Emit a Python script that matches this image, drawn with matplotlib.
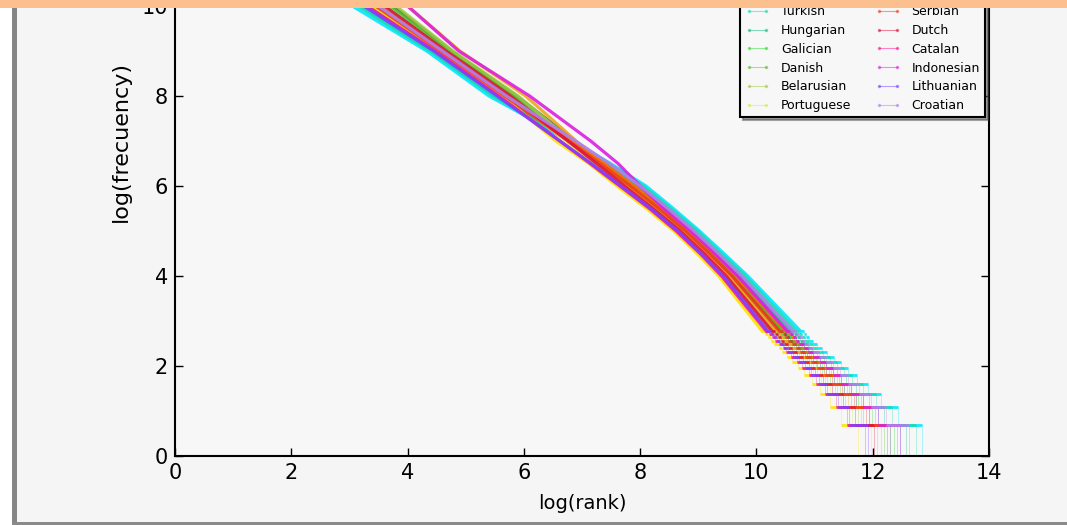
import numpy as np
import matplotlib.pyplot as plt
from matplotlib.lines import Line2D
from matplotlib.patches import Rectangle

# languages in legend order (first three of each column sit above the visible area)
languages = ['English', 'Spanish', 'German', 'Turkish', 'Hungarian', 'Galician',
             'Danish', 'Belarusian', 'Portuguese', 'Italian', 'French', 'Russian',
             'Serbian', 'Dutch', 'Catalan', 'Indonesian', 'Lithuanian', 'Croatian']
colors = ['#1c3347', '#2b8ff0', '#00e8ff', '#18dcb0', '#10c080', '#30dc30',
          '#5cc030', '#9ccc40', '#d4ec3c', '#ffe400', '#eca820', '#ff6a00',
          '#f03c1c', '#e0143c', '#ff1493', '#dc20e0', '#8040ff', '#b080f0']

# log(frecuency) levels where the upper, dense part of every curve was read
levels = [11.5, 10, 9, 8, 7, 6.5, 6, 5.5, 5, 4.5, 4]
# log(rank) of each curve at those levels
curve_x = [
    [2.15, 3.75, 4.75, 5.87, 6.88, 7.38, 7.85, 8.34, 8.80, 9.21, 9.60],
    [1.60, 3.20, 4.42, 5.50, 6.76, 7.36, 7.93, 8.41, 8.87, 9.28, 9.68],
    [1.45, 3.05, 4.33, 5.40, 6.82, 7.49, 8.10, 8.57, 9.02, 9.44, 9.85],
    [1.55, 3.15, 4.39, 5.47, 6.82, 7.46, 8.05, 8.52, 8.98, 9.39, 9.80],
    [1.75, 3.35, 4.51, 5.60, 6.83, 7.42, 7.98, 8.46, 8.91, 9.33, 9.73],
    [2.00, 3.60, 4.66, 5.77, 6.85, 7.38, 7.88, 8.36, 8.82, 9.23, 9.63],
    [2.10, 3.70, 4.72, 5.83, 6.83, 7.33, 7.80, 8.29, 8.76, 9.16, 9.55],
    [2.20, 3.80, 4.78, 5.90, 6.83, 7.30, 7.75, 8.25, 8.71, 9.12, 9.50],
    [1.95, 3.55, 4.63, 5.73, 6.73, 7.22, 7.70, 8.20, 8.67, 9.07, 9.45],
    [1.80, 3.40, 4.54, 5.63, 6.55, 7.12, 7.60, 8.11, 8.58, 8.98, 9.35],
    [2.40, 4.00, 4.90, 6.03, 6.90, 7.35, 7.78, 8.27, 8.73, 9.14, 9.53],
    [1.90, 3.50, 4.60, 5.70, 6.83, 7.38, 7.90, 8.39, 8.84, 9.26, 9.65],
    [1.85, 3.45, 4.57, 5.67, 6.77, 7.31, 7.83, 8.32, 8.78, 9.19, 9.58],
    [2.00, 3.60, 4.66, 5.77, 6.76, 7.25, 7.73, 8.22, 8.69, 9.10, 9.48],
    [1.70, 3.30, 4.48, 5.57, 6.62, 7.14, 7.65, 8.16, 8.62, 9.03, 9.40],
    [2.40, 4.00, 4.88, 6.10, 7.15, 7.62, 8.00, 8.41, 8.87, 9.28, 9.68],
    [1.65, 3.25, 4.45, 5.54, 6.62, 7.16, 7.67, 8.18, 8.65, 9.05, 9.43],
    [1.90, 3.50, 4.60, 5.70, 6.89, 7.47, 8.00, 8.48, 8.93, 9.35, 9.75],
]

# low-frequency tail: word counts 16..1 and the log(rank) where each count
# starts; the last value is log(vocabulary size)
tail_freq = [16, 15, 14, 13, 12, 11, 10, 9, 8, 7, 6, 5, 4, 3, 2, 1]
tail_x = [
    [10.43, 10.48, 10.53, 10.58, 10.64, 10.71, 10.78, 10.87, 10.98, 11.09, 11.20, 11.34, 11.51, 11.71, 11.94, 12.30, 12.95],
    [10.53, 10.58, 10.63, 10.68, 10.74, 10.81, 10.88, 10.98, 11.09, 11.20, 11.31, 11.46, 11.63, 11.84, 12.09, 12.47, 13.12],
    [10.76, 10.81, 10.86, 10.91, 10.97, 11.04, 11.12, 11.22, 11.34, 11.46, 11.58, 11.73, 11.92, 12.15, 12.43, 12.85, 13.50],
    [10.69, 10.74, 10.79, 10.84, 10.90, 10.97, 11.05, 11.15, 11.27, 11.39, 11.50, 11.65, 11.84, 12.06, 12.33, 12.74, 13.39],
    [10.60, 10.65, 10.70, 10.75, 10.81, 10.88, 10.95, 11.05, 11.16, 11.28, 11.39, 11.54, 11.72, 11.93, 12.19, 12.58, 13.23],
    [10.46, 10.51, 10.56, 10.61, 10.67, 10.74, 10.81, 10.91, 11.02, 11.13, 11.24, 11.38, 11.55, 11.75, 11.99, 12.36, 13.01],
    [10.36, 10.41, 10.46, 10.51, 10.57, 10.64, 10.71, 10.80, 10.91, 11.02, 11.12, 11.26, 11.43, 11.62, 11.84, 12.19, 12.84],
    [10.30, 10.35, 10.40, 10.45, 10.51, 10.58, 10.64, 10.73, 10.84, 10.94, 11.05, 11.18, 11.35, 11.53, 11.74, 12.08, 12.73],
    [10.23, 10.28, 10.33, 10.38, 10.44, 10.51, 10.58, 10.66, 10.76, 10.87, 10.97, 11.11, 11.26, 11.45, 11.65, 11.97, 12.62],
    [10.10, 10.15, 10.20, 10.25, 10.31, 10.38, 10.44, 10.52, 10.62, 10.72, 10.82, 10.95, 11.10, 11.27, 11.45, 11.75, 12.40],
    [10.33, 10.38, 10.43, 10.48, 10.54, 10.61, 10.68, 10.77, 10.87, 10.98, 11.09, 11.22, 11.39, 11.58, 11.79, 12.14, 12.79],
    [10.50, 10.55, 10.60, 10.65, 10.71, 10.78, 10.85, 10.94, 11.05, 11.16, 11.28, 11.42, 11.59, 11.80, 12.04, 12.41, 13.06],
    [10.40, 10.45, 10.50, 10.55, 10.61, 10.68, 10.75, 10.84, 10.94, 11.05, 11.16, 11.30, 11.47, 11.67, 11.89, 12.25, 12.90],
    [10.27, 10.32, 10.37, 10.42, 10.48, 10.55, 10.61, 10.70, 10.80, 10.91, 11.01, 11.15, 11.30, 11.49, 11.70, 12.03, 12.68],
    [10.17, 10.22, 10.27, 10.32, 10.38, 10.45, 10.51, 10.59, 10.69, 10.79, 10.90, 11.03, 11.18, 11.36, 11.55, 11.86, 12.51],
    [10.53, 10.58, 10.63, 10.68, 10.74, 10.81, 10.88, 10.98, 11.09, 11.20, 11.31, 11.46, 11.63, 11.84, 12.09, 12.47, 13.12],
    [10.20, 10.25, 10.30, 10.35, 10.41, 10.48, 10.54, 10.63, 10.73, 10.83, 10.93, 11.07, 11.22, 11.40, 11.60, 11.92, 12.57],
    [10.63, 10.68, 10.73, 10.78, 10.84, 10.91, 10.98, 11.08, 11.20, 11.31, 11.43, 11.57, 11.76, 11.97, 12.23, 12.63, 13.28],
]

W, H = 1067, 525
bg = '#f5f5f5'
fig = plt.figure(figsize=(W / 100, H / 100), dpi=100, facecolor=bg)
# axes run up to 14, the top part is cut off by the page
ax = fig.add_axes([175 / W, 69 / H, 814 / W, 630 / H], facecolor='#f7f7f7')

ty = np.log(tail_freq)
for cx, tx, c in zip(curve_x, tail_x, colors):
    ax.plot(cx + [tx[0]], levels + [ty[0]], color=c, lw=2.3, alpha=0.9,
            solid_joinstyle='round')
    ax.hlines(ty[:-1], tx[:-2], tx[1:-1], color=c, lw=2.0, alpha=0.9)
    ax.vlines(tx[1:-1], ty[1:], ty[:-1], color=c, lw=0.6, alpha=0.35)

ax.set_xlim(0, 14)
ax.set_ylim(0, 14)
ax.set_xticks(np.arange(0, 15, 2))
ax.set_yticks(np.arange(0, 11, 2))
ax.tick_params(direction='in', top=True, right=True, length=6, width=1,
               labelsize=15, pad=5)
for s in ax.spines.values():
    s.set_linewidth(1.5)
ax.set_xlabel('log(rank)', fontsize=14, labelpad=8)
ax.set_ylabel('log(frecuency)', fontsize=16)
ax.yaxis.set_label_coords(-0.054, 0.5)

handles = [Line2D([], [], color=c, lw=0.8, marker='.', ms=3, alpha=0.5)
           for c in colors]
leg = ax.legend(handles, languages, ncol=2, fontsize=9, numpoints=2,
                loc='lower right', bbox_to_anchor=(985 / W, 1 - 117 / H),
                bbox_transform=fig.transFigure, borderaxespad=0,
                shadow=True, fancybox=False, framealpha=1,
                labelspacing=0.46, handlelength=2.0, handletextpad=0.9,
                columnspacing=1.9)
leg.get_frame().set_edgecolor('black')
leg.get_frame().set_linewidth(1.5)
leg.get_frame().set_facecolor('#f7f7f7')

# page chrome around the screenshot
fig.patches.append(Rectangle((0, 0), 12 / W, 1, transform=fig.transFigure,
                             facecolor='white', edgecolor='none', zorder=10))
fig.patches.append(Rectangle((12 / W, 0), 5 / W, 1, transform=fig.transFigure,
                             facecolor='#858585', edgecolor='none', zorder=10))
fig.patches.append(Rectangle((12 / W, 0), 1 - 12 / W, 3 / H, transform=fig.transFigure,
                             facecolor='#8a8a8a', edgecolor='none', zorder=10))
fig.patches.append(Rectangle((0, 1 - 8 / H), 1, 8 / H, transform=fig.transFigure,
                             facecolor='#fcc08e', edgecolor='none', zorder=10))

fig.savefig('out.png', dpi=100, facecolor=bg)
